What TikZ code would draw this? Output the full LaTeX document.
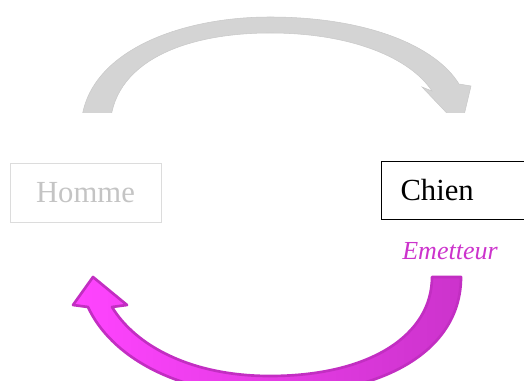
\documentclass[tikz,border=0pt]{standalone}
\usepackage{fontspec}
\setmainfont{Liberation Serif}
\definecolor{arrowgrey}{HTML}{D4D4D4}
\definecolor{boxgrey}{HTML}{DCDCDC}
\definecolor{textgrey}{HTML}{C4C4C4}
\definecolor{pinklight}{HTML}{FF44FF}
\definecolor{pinkdark}{HTML}{CC33CC}
\definecolor{pinkline}{HTML}{C22EC2}

\begin{document}
\begin{tikzpicture}
  [x=0.75pt, y=-0.75pt,
   box/.style={rectangle, minimum height=44pt, font=\fontsize{23}{27}\selectfont},
   grey arrow/.style={fill=arrowgrey, draw=arrowgrey!95!black, line width=0.4pt},
   pink arrow/.style={left color=pinklight, right color=pinkdark, draw=pinkline,
                      line width=2pt, line join=round}]
  \useasboundingbox (0,0) rectangle (524,381);

  % the two speakers
  \node[box, draw=boxgrey, text=textgrey, minimum width=113pt] (homme) at (85.5,192.5) {Homme};
  \node[box, draw, line width=0.8pt, anchor=west, inner xsep=14.25pt,
        text width=84pt] (chien) at (381,190.5) {Chien};
  \node[font=\fontsize{19.5}{23}\selectfont\itshape, text=pinkdark] (role) at (450,251) {Emetteur};

  % top arrow, cut off at its foot
  \begin{scope}
    \clip (0,0) rectangle (524,113);
    \path[grey arrow] (81,130) .. controls (81,55) and (175,17) .. (270,17)
      .. controls (365,17) and (435,45) .. (459,84) -- (471,86) -- (461,128) -- (422,87) -- (432,91)
      .. controls (410,58) and (352,33) .. (270,33)
      .. controls (185,33) and (110,62) .. (110,130) -- cycle;
  \end{scope}

  % bottom arrow, cut off at its belly
  \path[pink arrow] (461,277) .. controls (461,350) and (385,395) .. (270,395)
    .. controls (175,395) and (110,355) .. (88,307) -- (73,305) -- (93,277) -- (127,305) -- (112,307)
    .. controls (135,345) and (190,376) .. (270,376)
    .. controls (370,376) and (432,335) .. (432,277) -- cycle;
\end{tikzpicture}
\end{document}
